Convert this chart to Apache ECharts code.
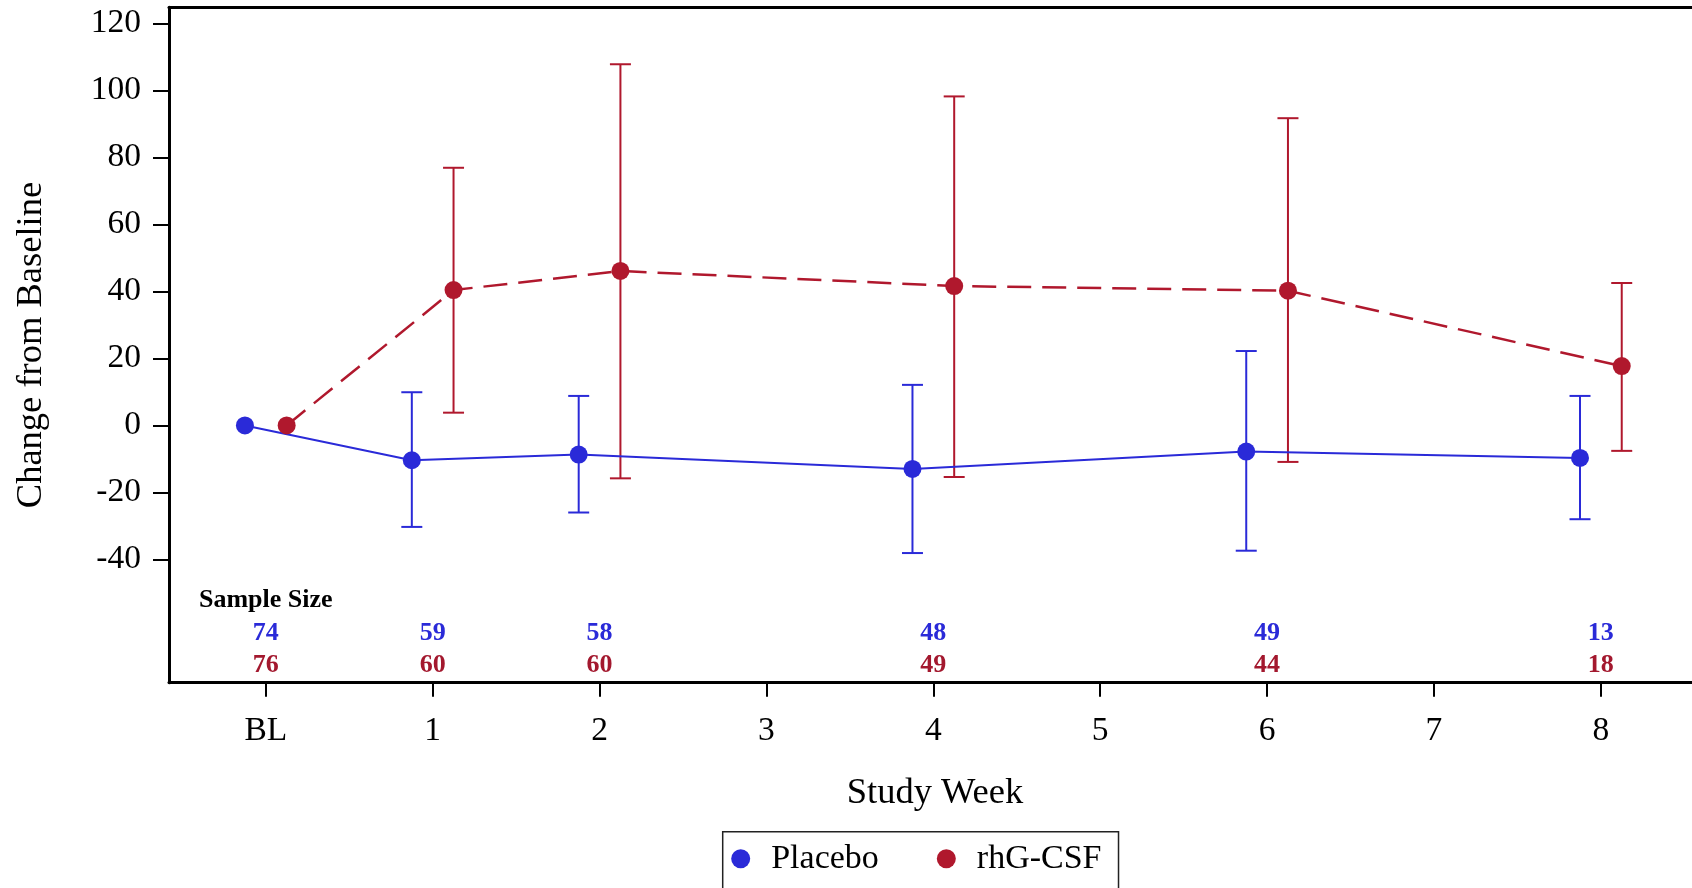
<!DOCTYPE html>
<html><head><meta charset="utf-8">
<script src="https://cdn.jsdelivr.net/npm/echarts@6/dist/echarts.min.js"></script>
<style>html,body{margin:0;padding:0;background:#fff}#c{width:1692px;height:888px}</style>
</head><body><div id="c"></div>
<script>
// ---- data ----
var weeks = [0, 1, 2, 4, 6, 8];
var xTickValues = [0, 1, 2, 3, 4, 5, 6, 7, 8];
var xTickLabels = ['BL', '1', '2', '3', '4', '5', '6', '7', '8'];
var yTickValues = [-40, -20, 0, 20, 40, 60, 80, 100, 120];
var placeboMean = [0, -10.4, -8.7, -13.0, -7.8, -9.7];
var placeboLow  = [null, -30.3, -26.0, -38.1, -37.4, -28.0];
var placeboHigh = [null, 9.9, 8.8, 12.1, 22.2, 8.8];
var csfMean = [0, 40.4, 46.1, 41.6, 40.2, 17.7];
var csfLow  = [null, 3.8, -15.8, -15.4, -10.9, -7.6];
var csfHigh = [null, 76.9, 107.8, 98.2, 91.7, 42.5];
var placeboN = [74, 59, 58, 48, 49, 13];
var csfN = [76, 60, 60, 49, 44, 18];

// ---- style ----
var FONT = "'Liberation Serif','Times New Roman',serif";
var BLUE = '#2A2AD8';
var RED = '#B0182D';
var RED_TXT = '#A3182E';
var OFF = 0.125;

function shifted(vals, off) { return weeks.map(function (w, i) { return [w + off, vals[i]]; }); }
function barData(lo, hi, off) {
  var out = [];
  weeks.forEach(function (w, i) { if (lo[i] != null) out.push([w + off, lo[i], hi[i]]); });
  return out;
}
function errRender(color) {
  return function (params, api) {
    var x = api.value(0), lo = api.value(1), hi = api.value(2);
    var a = api.coord([x, hi]), b = api.coord([x, lo]);
    var hw = 10.5, st = { stroke: color, lineWidth: 2 };
    return { type: 'group', children: [
      { type: 'line', shape: { x1: a[0], y1: a[1], x2: b[0], y2: b[1] }, style: st },
      { type: 'line', shape: { x1: a[0] - hw, y1: a[1], x2: a[0] + hw, y2: a[1] }, style: st },
      { type: 'line', shape: { x1: b[0] - hw, y1: b[1], x2: b[0] + hw, y2: b[1] }, style: st }
    ] };
  };
}
function nRender(color, level) {
  return function (params, api) {
    var p = api.coord([api.value(0), level]);
    return { type: 'text', x: p[0], y: p[1], style: {
      text: String(api.value(1)), fill: color, font: 'bold 26px ' + FONT,
      textAlign: 'center', textVerticalAlign: 'middle' } };
  };
}

var chart = echarts.init(document.getElementById('c'), null, { renderer: 'canvas' });
chart.setOption({
  animation: false,
  backgroundColor: '#fff',
  textStyle: { fontFamily: FONT },
  grid: { left: 169, top: 7.3, width: 1532, height: 675.4, outerBoundsMode: 'none', containLabel: false },
  legend: {
    data: ['Placebo', 'rhG-CSF'],
    left: 722.7, top: 831.7,
    orient: 'horizontal',
    icon: 'circle', itemWidth: 19, itemHeight: 19, itemGap: 58,
    padding: [10, 17, 13, 8.5],
    borderColor: '#222', borderWidth: 1.5,
    textStyle: { fontFamily: FONT, fontSize: 34, color: '#000', padding: [0, 0, 0, 16] }
  },
  xAxis: [{
    type: 'value', min: -0.58, max: 8.6, position: 'bottom',
    name: 'Study Week', nameLocation: 'middle', nameGap: 92,
    nameTextStyle: { fontFamily: FONT, fontSize: 36.5, color: '#000' },
    axisLine: { show: true, onZero: false, lineStyle: { color: '#000', width: 3 } },
    axisTick: { show: true, length: 14, lineStyle: { color: '#000', width: 2 }, customValues: xTickValues },
    axisLabel: { fontFamily: FONT, fontSize: 33.5, color: '#000', margin: 31.5, customValues: xTickValues,
      formatter: function (v) { var i = xTickValues.indexOf(v); return i >= 0 ? xTickLabels[i] : ''; } },
    splitLine: { show: false }
  }, {
    type: 'value', min: -0.58, max: 8.6, position: 'top',
    axisLine: { show: true, onZero: false, lineStyle: { color: '#000', width: 3 } },
    axisTick: { show: false }, axisLabel: { show: false }, splitLine: { show: false }
  }],
  yAxis: {
    type: 'value', min: -76.8, max: 124.8,
    name: 'Change from Baseline', nameLocation: 'middle', nameGap: 119,
    nameTextStyle: { fontFamily: FONT, fontSize: 36.5, color: '#000' },
    axisLine: { show: true, onZero: false, lineStyle: { color: '#000', width: 3 } },
    axisTick: { show: true, length: 16, lineStyle: { color: '#000', width: 2 }, customValues: yTickValues },
    axisLabel: { fontFamily: FONT, fontSize: 33.5, color: '#000', margin: 28, customValues: yTickValues },
    splitLine: { show: false }
  },
  graphic: [{
    type: 'text', left: 199, top: 587,
    style: { text: 'Sample Size', font: 'bold 26px ' + FONT, fill: '#000' }
  }],
  series: [
    { type: 'custom', name: 'pErr', renderItem: errRender(BLUE), data: barData(placeboLow, placeboHigh, -OFF), z: 2, silent: true },
    { type: 'custom', name: 'cErr', renderItem: errRender(RED), data: barData(csfLow, csfHigh, OFF), z: 2, silent: true },
    { type: 'line', name: 'Placebo', data: shifted(placeboMean, -OFF), symbol: 'circle', symbolSize: 18,
      itemStyle: { color: BLUE }, lineStyle: { color: BLUE, width: 2 }, z: 3 },
    { type: 'line', name: 'rhG-CSF', data: shifted(csfMean, OFF), symbol: 'circle', symbolSize: 18,
      itemStyle: { color: RED }, lineStyle: { color: RED, width: 2.5, type: [24, 11] }, z: 3 },
    { type: 'custom', name: 'pN', renderItem: nRender(BLUE, -62.1), data: weeks.map(function (w, i) { return [w, placeboN[i]]; }), silent: true },
    { type: 'custom', name: 'cN', renderItem: nRender(RED_TXT, -71.6), data: weeks.map(function (w, i) { return [w, csfN[i]]; }), silent: true }
  ]
});
</script></body></html>
